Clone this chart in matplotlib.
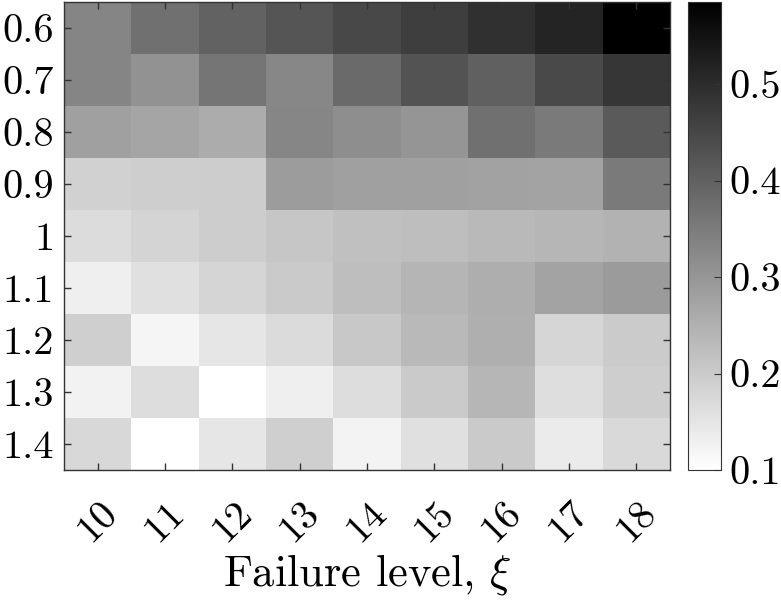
import numpy as np
import matplotlib
matplotlib.use("Agg")
import matplotlib.pyplot as plt

plt.rcParams["font.family"] = "cmr10"
plt.rcParams["mathtext.fontset"] = "cm"
plt.rcParams["axes.unicode_minus"] = False
plt.rcParams["axes.formatter.use_mathtext"] = True

# failure level (columns) and load ratio (rows)
failure_levels = [10, 11, 12, 13, 14, 15, 16, 17, 18]
ratios = [0.6, 0.7, 0.8, 0.9, 1.0, 1.1, 1.2, 1.3, 1.4]
ratio_labels = ["0.6", "0.7", "0.8", "0.9", "1", "1.1", "1.2", "1.3", "1.4"]

row_06 = [0.332, 0.372, 0.399, 0.423, 0.448, 0.467, 0.494, 0.515, 0.585]
row_07 = [0.332, 0.307, 0.362, 0.328, 0.383, 0.427, 0.402, 0.446, 0.482]
row_08 = [0.281, 0.271, 0.258, 0.330, 0.315, 0.302, 0.372, 0.353, 0.414]
row_09 = [0.189, 0.193, 0.195, 0.288, 0.281, 0.281, 0.277, 0.275, 0.353]
row_10 = [0.167, 0.182, 0.195, 0.208, 0.220, 0.224, 0.233, 0.239, 0.246]
row_11 = [0.132, 0.159, 0.180, 0.201, 0.224, 0.241, 0.254, 0.275, 0.290]
row_12 = [0.191, 0.119, 0.148, 0.170, 0.205, 0.233, 0.252, 0.178, 0.199]
row_13 = [0.125, 0.165, 0.100, 0.132, 0.165, 0.201, 0.239, 0.163, 0.193]
row_14 = [0.174, 0.101, 0.148, 0.191, 0.123, 0.159, 0.201, 0.138, 0.172]

Z = np.array([row_06, row_07, row_08, row_09, row_10,
              row_11, row_12, row_13, row_14])

x = np.array(failure_levels, dtype=float)
y = np.array(ratios)
xe = np.concatenate([x - 0.5, [x[-1] + 0.5]])
ye = np.concatenate([y - 0.05, [y[-1] + 0.05]])

fig = plt.figure(figsize=(7.81, 6), dpi=100)
ax = fig.add_axes([64 / 781, 1 - 470 / 600, 606 / 781, 468 / 600])
cax = fig.add_axes([688 / 781, 1 - 470 / 600, 33 / 781, 468 / 600])

mesh = ax.pcolormesh(xe, ye, Z, cmap="gray_r", vmin=Z.min(), vmax=Z.max())
ax.set_xlim(xe[0], xe[-1])
ax.set_ylim(ye[-1], ye[0])

ax.set_xticks(x)
ax.set_xticklabels([str(v) for v in failure_levels], rotation=45,
                   ha="center", va="top", fontsize=29)
ax.set_yticks(y)
ax.set_yticklabels(ratio_labels, fontsize=29)
ax.tick_params(direction="in", top=True, right=True, length=5,
               width=1, color="#333333", pad=7)
ax.tick_params(axis="x", pad=18)
ax.set_xlabel(r"Failure level, $\xi$", fontsize=32, labelpad=2)
for s in ax.spines.values():
    s.set_color("#333333")
    s.set_linewidth(1)

cb = fig.colorbar(mesh, cax=cax)
cb.set_ticks([0.1, 0.2, 0.3, 0.4, 0.5])
cb.ax.set_yticklabels(["0.1", "0.2", "0.3", "0.4", "0.5"], fontsize=29)
cb.ax.tick_params(direction="in", length=5, color="#333333", pad=6)
cb.outline.set_edgecolor("#333333")

fig.savefig("out.png", dpi=100)
